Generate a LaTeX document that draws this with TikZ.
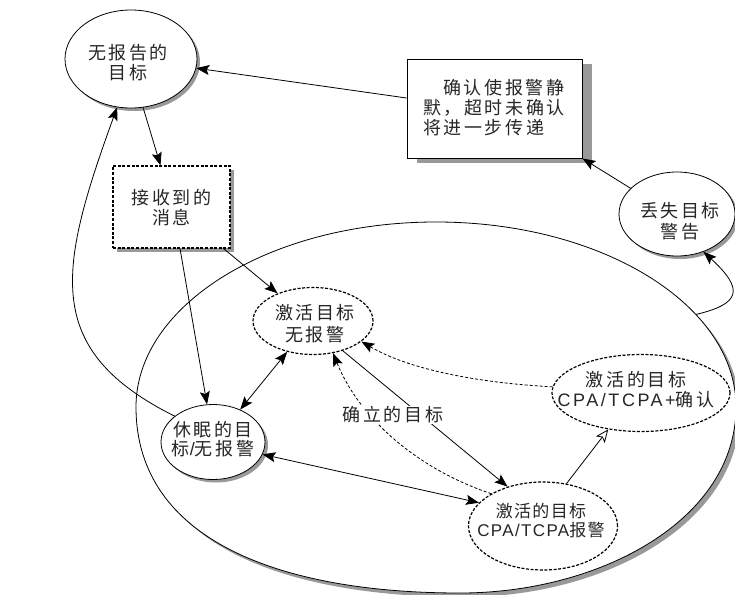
\documentclass[tikz,border=0pt]{standalone}
\usepackage{fontspec}
\newfontfamily\cjk[LetterSpace=14]{Noto Sans CJK SC}
\newfontfamily\cjkH[LetterSpace=8]{Noto Sans CJK SC}
\newfontfamily\lat[LetterSpace=14]{Liberation Sans}
\newfontfamily\latH[LetterSpace=8]{Liberation Sans}
\usetikzlibrary{shapes.geometric,arrows.meta,shadows}
\begin{document}
\begin{tikzpicture}[x=1pt,y=-1pt,
  txt/.style={font=\cjk\fontsize{18}{20}\selectfont, text=black!85, align=center, inner sep=0pt},
  solidell/.style={ellipse, draw=black, line width=0.8pt, fill=white, inner sep=0pt,
    drop shadow={shadow xshift=3pt,shadow yshift=-3pt,fill=black!40,opacity=1}},
  dashell/.style={ellipse, draw=black, line width=1.2pt, dash pattern=on 3pt off 1.6pt, fill=white, inner sep=0pt},
  conn/.style={line width=0.8pt, -{Stealth[length=13pt,width=10pt,inset=2.5pt]}},
  dconn/.style={line width=0.8pt, dash pattern=on 3pt off 2pt, -{Stealth[length=13pt,width=10pt,inset=2.5pt]}},
  bconn/.style={line width=0.8pt, {Stealth[length=13pt,width=10pt,inset=2.5pt]}-{Stealth[length=13pt,width=10pt,inset=2.5pt]}},
  openarr/.style={line width=0.8pt, -{Stealth[open,length=13pt,width=11pt,inset=3pt,fill=white]}},
  region/.style={line width=0.8pt}]
\fill[white] (0,0) rectangle (735,594);
\useasboundingbox (0,0) rectangle (735,594);
% large region
\fill[black!40, shift={(4pt,-4pt)}] (736,407) arc[start angle=0, end angle=180, x radius=300pt, y radius=185pt]
  .. controls (136,540) and (280,593) .. (460,593) .. controls (600,593) and (736,520) .. cycle;
\filldraw[region, fill=white] (736,407) arc[start angle=0, end angle=180, x radius=300pt, y radius=185pt]
  .. controls (136,540) and (280,593) .. (460,593) .. controls (600,593) and (736,520) .. cycle;
\coordinate (bigR) at (695.8,314.5);
% nodes
\node[solidell, minimum width=132pt, minimum height=98pt] (A) at (131,59) {};
\node[txt] (At) at (128,63) {无报告的\\目标};
\node[draw, line width=0.9pt, fill=white, minimum width=175pt, minimum height=99pt, inner sep=0pt,
  drop shadow={shadow xshift=10pt, shadow yshift=-5pt, fill=black!40, opacity=1}] (B) at (494.5,108.5) {};
\node[txt, align=left] (Bt) at (494,108) {\hspace*{20pt}确认使报警静\\默，超时未确认\\将进一步传递};
\node[solidell, minimum width=116pt, minimum height=84pt] (C) at (677,214) {};
\node[txt, font=\cjk\fontsize{18}{21}\selectfont] (Ct) at (680,221) {丢失目标\\警告};
\node[draw, line width=1.1pt, dash pattern=on 3pt off 1.6pt, fill=white, minimum width=117pt, minimum height=82pt, inner sep=0pt,
  drop shadow={shadow xshift=4pt,shadow yshift=-4pt,fill=black!40,opacity=1}] (D) at (171.5,207) {};
\node[txt] (Dt) at (171.5,208) {接收到的\\消息};
\node[dashell, minimum width=120pt, minimum height=67pt] (E) at (313,321) {};
\node[txt, font=\cjk\fontsize{18}{22}\selectfont] (Et) at (315,324) {激活目标\\无报警};
\node[solidell, minimum width=104pt, minimum height=75pt] (F) at (213,442) {};
\node[txt, font=\cjk\fontsize{18}{19}\selectfont] (Ft) at (213,439) {休眠的目\\标{\lat /}无报警};
\node[dashell, minimum width=178pt, minimum height=77pt] (G) at (641,393) {};
\node[txt] (Gt) at (636,390) {激活的目标\\{\lat CPA/TCPA+}确认};
\node[dashell, minimum width=149pt, minimum height=88pt] (H) at (543,526) {};
\node[txt, font=\cjkH\fontsize{17}{19}\selectfont] (Ht) at (541,521) {激活的目标\\{\latH CPA/TCPA}报警};
% connectors
\draw[conn] ([yshift=10.5pt]B.west) -- (A.-8);
\draw[conn] (A.-76) -- ([xshift=-11pt]D.north);
\draw[conn] (C.151) -- (B.south east);
\draw[conn] (bigR) .. controls (740,304) and (745,290) .. (C.-55);
\draw[conn] (F.146) .. controls (42,350) and (58,270) .. (A.-106);
\draw[conn] ([xshift=8.5pt]D.south) -- (F.99);
\draw[conn] ([xshift=-7pt]D.south east) -- (E.142);
\draw[bconn] (E.-130) -- (F.50);
\draw[bconn] (F.-14) -- (H.160);
\draw[conn] (E.-45) -- (H.132);
\draw[dconn] (H.148) .. controls (420,470) and (360,420) .. (E.-58);
\draw[dconn] (G.176) .. controls (480,383) and (410,370) .. (E.-23);
\draw[openarr] (H.61) -- (G.-132);
\node[txt, fill=white, inner sep=1pt] (L) at (393,415) {确立的目标};
\end{tikzpicture}
\end{document}
